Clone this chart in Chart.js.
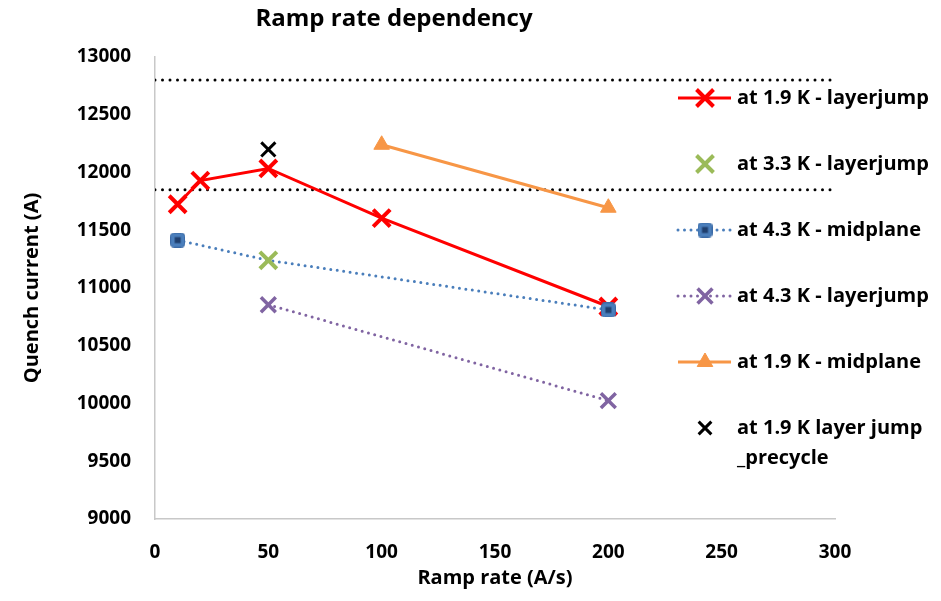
<!DOCTYPE html>
<html>
<head>
<meta charset="utf-8">
<script src="https://cdn.jsdelivr.net/npm/chart.js@4.4.0/dist/chart.umd.min.js"></script>
<style>
  html, body { margin: 0; padding: 0; background: #fff; }
  #wrap { width: 941px; height: 601px; }
</style>
</head>
<body>
<div id="wrap"><canvas id="grafico" width="941" height="601"></canvas></div>
<script>
// DADOS
const seriesNames = [
    'at 1.9 K - layerjump',
    'at 3.3 K - layerjump',
    'at 4.3 K - midplane',
    'at 4.3 K - layerjump',
    'at 1.9 K - midplane',
    ['at 1.9 K layer jump', '_precycle']
];
const red19LayerX = [10, 20, 50, 100, 200];
const red19LayerY = [11725, 11930, 12035, 11605, 10840];
const green33LayerX = [50];
const green33LayerY = [11240];
const blue43MidX = [10, 50, 200];
const blue43MidY = [11415, 11240, 10810];
const purple43LayerX = [50, 200];
const purple43LayerY = [10855, 10025];
const orange19MidX = [100, 200];
const orange19MidY = [12240, 11695];
const black19PreX = [50];
const black19PreY = [12200];
const limitX = [0, 300];
const limitUpper = [12800, 12800];
const limitLower = [11850, 11850];

const xTicks = [0, 50, 100, 150, 200, 250, 300];
const yTicks = [9000, 9500, 10000, 10500, 11000, 11500, 12000, 12500, 13000];

const FONTE = '"Open Sans", Lato, sans-serif';

// FUNCOES
function pontos(xs, ys) {
    return xs.map((x, i) => ({ x: x, y: ys[i] }));
}

function marcadorQuadrado() {
    const c = document.createElement('canvas');
    c.width = 15; c.height = 15;
    const g = c.getContext('2d');
    g.fillStyle = '#4a7ebb';
    g.strokeStyle = '#3b6aa6';
    g.beginPath();
    g.roundRect(0.5, 0.5, 14, 14, 3);
    g.fill();
    g.stroke();
    g.fillStyle = '#1f3f6e';
    g.fillRect(4.5, 4.5, 6, 6);
    return c;
}
const quadrado = marcadorQuadrado();

const datasets = [
    {
        label: seriesNames[0], data: pontos(red19LayerX, red19LayerY),
        borderColor: '#ff0000', backgroundColor: '#ff0000', borderWidth: 3,
        showLine: true, pointStyle: 'crossRot', pointRadius: 12, pointBorderWidth: 4,
        order: 6
    },
    {
        label: seriesNames[1], data: pontos(green33LayerX, green33LayerY),
        borderColor: '#9bbb59', backgroundColor: '#9bbb59', showLine: false,
        pointStyle: 'crossRot', pointRadius: 12, pointBorderWidth: 4,
        order: 3
    },
    {
        // o ponto em 50 fica escondido sob o X verde no original
        label: seriesNames[2], data: pontos(blue43MidX, blue43MidY),
        borderColor: '#4a7ebb', backgroundColor: '#4a7ebb', borderWidth: 3,
        borderDash: [0, 6.5], borderCapStyle: 'round',
        showLine: true, pointStyle: quadrado, pointRadius: [8, 0, 8],
        order: 5
    },
    {
        label: seriesNames[3], data: pontos(purple43LayerX, purple43LayerY),
        borderColor: '#8064a2', backgroundColor: '#8064a2', borderWidth: 3,
        borderDash: [0, 6.5], borderCapStyle: 'round',
        showLine: true, pointStyle: 'crossRot', pointRadius: 10.5, pointBorderWidth: 3.5,
        order: 4
    },
    {
        label: seriesNames[4], data: pontos(orange19MidX, orange19MidY),
        borderColor: '#f79646', backgroundColor: '#f79646', borderWidth: 3,
        showLine: true, pointStyle: 'triangle', pointRadius: 9, pointBorderWidth: 1,
        order: 2
    },
    {
        label: 'precycle', data: pontos(black19PreX, black19PreY),
        borderColor: '#000000', backgroundColor: '#000000', showLine: false,
        pointStyle: 'crossRot', pointRadius: 10, pointBorderWidth: 3,
        order: 1
    },
    {
        label: 'limite1', data: pontos(limitX, limitUpper),
        borderColor: '#000000', borderWidth: 3, borderDash: [0, 7.5], borderCapStyle: 'round',
        showLine: true, pointRadius: 0, order: 10
    },
    {
        label: 'limite2', data: pontos(limitX, limitLower),
        borderColor: '#000000', borderWidth: 3, borderDash: [0, 7.5], borderCapStyle: 'round',
        showLine: true, pointRadius: 0, order: 10
    }
];

// titulo e legenda desenhados a mao (a legenda fica sobre a area do grafico, como no Excel)
const pluginExtras = {
    id: 'extras',
    afterDraw(chart) {
        const ctx = chart.ctx;
        ctx.save();
        ctx.fillStyle = '#000';
        ctx.font = 'bold 24px ' + FONTE;
        ctx.textAlign = 'center';
        ctx.textBaseline = 'middle';
        ctx.fillText('Ramp rate dependency', 394, 19);

        ctx.font = 'bold 20px ' + FONTE;
        ctx.textAlign = 'left';
        for (let i = 0; i < 6; i++) {
            const ds = chart.data.datasets[i];
            const y = 98 + i * 66;
            const cx = 705;
            if (ds.showLine) {
                ctx.save();
                ctx.strokeStyle = ds.borderColor;
                ctx.lineWidth = ds.borderWidth;
                ctx.lineCap = ds.borderCapStyle || 'butt';
                ctx.setLineDash(ds.borderDash || []);
                ctx.beginPath();
                ctx.moveTo(678, y);
                ctx.lineTo(731, y);
                ctx.stroke();
                ctx.restore();
            }
            ctx.save();
            ctx.strokeStyle = ds.borderColor;
            ctx.fillStyle = ds.backgroundColor;
            ctx.lineWidth = ds.pointBorderWidth || 1;
            const raio = Array.isArray(ds.pointRadius) ? ds.pointRadius[0] : ds.pointRadius;
            Chart.helpers.drawPoint(ctx, {
                pointStyle: ds.pointStyle,
                radius: i === 5 ? 9 : raio,
                borderWidth: ds.pointBorderWidth || 1,
                rotation: 0
            }, cx, y);
            ctx.restore();
            const txt = [].concat(seriesNames[i]);
            txt.forEach((t, k) => ctx.fillText(t, 737, y + k * 30));
        }
        ctx.restore();
    }
};

const ctx = document.getElementById('grafico').getContext('2d');
new Chart(ctx, {
    type: 'scatter',
    data: { datasets: datasets },
    options: {
        responsive: false,
        animation: false,
        layout: { padding: { top: 57, right: 106, left: 0, bottom: 0 } },
        plugins: {
            legend: { display: false },
            tooltip: { enabled: false },
            title: { display: false }
        },
        scales: {
            x: {
                type: 'linear', min: 0, max: 300,
                afterBuildTicks: s => { s.ticks = xTicks.map(v => ({ value: v })); },
                afterFit: s => { s.height = 82; },
                grid: { display: false, drawTicks: false },
                border: { display: true, color: '#c8c8c8', width: 1.5 },
                ticks: {
                    color: '#000', padding: 22, callback: v => String(v),
                    font: { family: FONTE, size: 19, weight: 'bold' }
                },
                title: {
                    display: true, text: 'Ramp rate (A/s)', color: '#000',
                    padding: { top: 0, bottom: 11 },
                    font: { family: FONTE, size: 20, weight: 'bold' }
                }
            },
            y: {
                type: 'linear', min: 9000, max: 13000,
                afterBuildTicks: s => { s.ticks = yTicks.map(v => ({ value: v })); },
                afterFit: s => { s.width = 155; },
                grid: { display: false, drawTicks: false },
                border: { display: true, color: '#c8c8c8', width: 1.5 },
                ticks: {
                    color: '#000', padding: 24, callback: v => String(v),
                    font: { family: FONTE, size: 19, weight: 'bold' }
                },
                title: {
                    display: true, text: 'Quench current (A)', color: '#000',
                    padding: { top: 20, bottom: 0 },
                    font: { family: FONTE, size: 20, weight: 'bold' }
                }
            }
        }
    },
    plugins: [pluginExtras]
});
</script>
</body>
</html>
